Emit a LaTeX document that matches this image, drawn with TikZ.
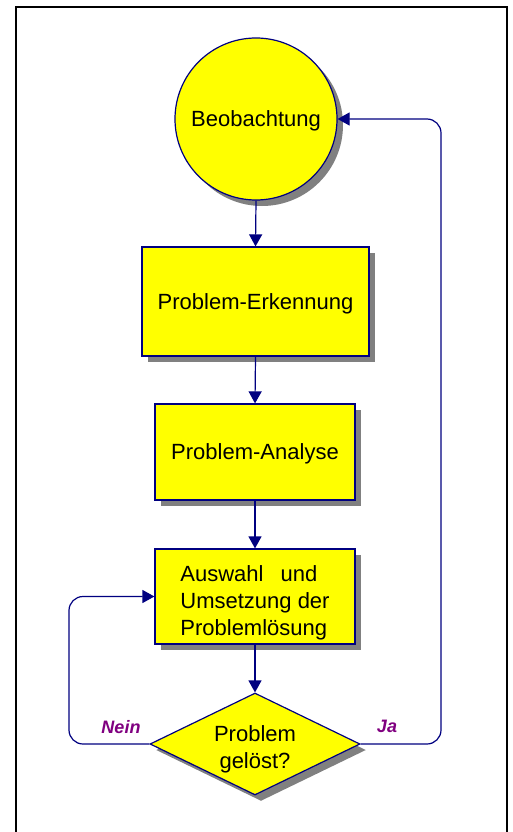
\documentclass[tikz,border=0pt]{standalone}
\usepackage{fontspec}
\setmainfont{Liberation Sans}
\usetikzlibrary{shapes.geometric,arrows.meta}

\definecolor{fillyellow}{RGB}{255,255,0}
\definecolor{linenavy}{RGB}{0,0,128}
\definecolor{shadegray}{RGB}{128,128,128}
\definecolor{labelpurple}{RGB}{128,0,128}

\tikzset{
  shade offset/.style={preaction={fill=shadegray,draw=none,
      transform canvas={shift={(6pt,-6pt)}}}},
  flowbox/.style={shade offset,draw=linenavy,line width=1.2pt,fill=fillyellow,
      rectangle,inner sep=0pt,text depth=0pt,font=\fontsize{22}{27}\selectfont},
  flowcircle/.style={shade offset,draw=linenavy,line width=1.2pt,fill=fillyellow,
      circle,inner sep=0pt,text depth=0pt,minimum size=162pt,font=\fontsize{22}{27}\selectfont},
  flowdiamond/.style={shade offset,draw=linenavy,line width=1.2pt,fill=fillyellow,
      diamond,inner sep=0pt,minimum width=210pt,minimum height=102pt},
  flowtext/.style={font=\fontsize{22}{27}\selectfont,align=center,inner sep=0pt},
  flowarrow/.style={draw=linenavy,line width=1.2pt,
      -{Triangle[length=12pt,width=13pt]}},
  answer/.style={text=labelpurple,font=\fontsize{18}{20}\selectfont\bfseries\itshape}
}

\begin{document}
\begin{tikzpicture}[x=1pt,y=-1pt]
\useasboundingbox (0,0) rectangle (512,832);

% outer frame, open at the bottom
\draw[line width=2pt] (15.5,834) -- (15.5,7) -- (507,7) -- (507,834);

% flow elements
\node[flowcircle] (obs) at (256,119) {Beobachtung};
\node[flowbox,minimum width=227pt,minimum height=109pt] (detect) at (255.5,301.5) {Problem-Erkennung};
\node[flowbox,minimum width=200pt,minimum height=96pt] (analyse) at (255,452) {Problem-Analyse};
\node[flowbox,minimum width=200pt,minimum height=95pt] (solve) at (255,596.5) {};
\node[flowtext,align=left] (solvetext) at (255,603) {Auswahl\hspace{17pt}und\\Umsetzung der\\Problemlösung};
\node[flowdiamond] (check) at (255,744) {};
\node[flowtext] (checktext) at (255,749) {Problem\\gelöst?};

% main flow
\draw[flowarrow] (obs.south) -- (detect.north);
\draw[flowarrow] (detect.south) -- (analyse.north);
\draw[flowarrow] (analyse.south) -- (solve.north);
\draw[flowarrow] (solve.south) -- (check.north);

% feedback loops
\coordinate (noleft) at (69,744);
\coordinate (notop) at (69,596.5);
\draw[flowarrow,rounded corners=14pt] (check.west) -- (noleft) -- (notop) -- (solve.west);

\coordinate (yesright) at (441,744);
\coordinate (yestop) at (441,119);
\draw[flowarrow,rounded corners=14pt] (check.east) -- (yesright) -- (yestop) -- (obs.east);

% branch labels
\node[answer] (no) at (121,727) {Nein};
\node[answer] (yes) at (387,726) {Ja};
\end{tikzpicture}
\end{document}
